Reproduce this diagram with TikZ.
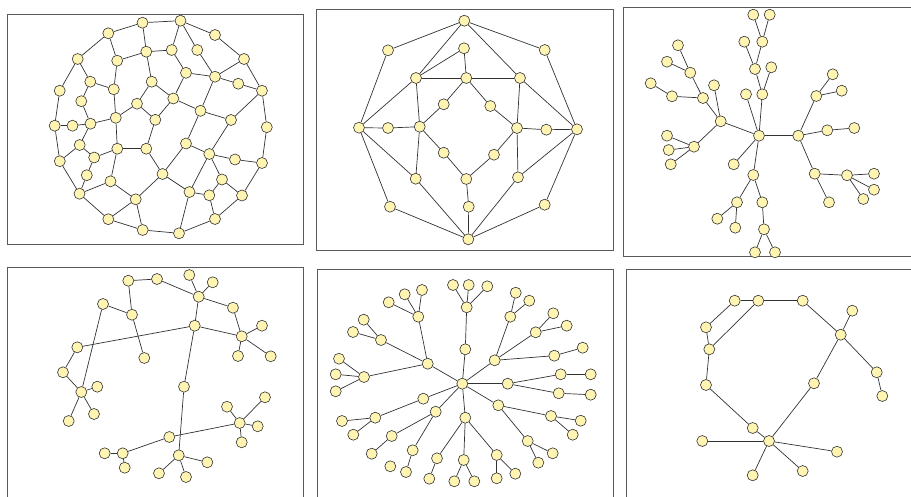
\documentclass[tikz,border=0pt]{standalone}
\usepackage{tikz}
\definecolor{vfill}{RGB}{255,244,178}
\definecolor{vline}{RGB}{50,50,50}
\definecolor{fline}{RGB}{90,90,90}

\begin{document}
\begin{tikzpicture}[
  x=1pt, y=-1pt,
  v/.style={draw=vline, circle, fill=vfill, line width=0.6pt,
            minimum size=11pt, inner sep=0pt},
  e/.style={draw=vline, line width=0.7pt},
  frame/.style={draw=fline, line width=0.9pt}]
\clip (0,0) rectangle (911,496);

% panel frames
\draw[frame] (7,14) rectangle (303,244);
\draw[frame] (316,9) rectangle (613,250);
\draw[frame] (623,7) rectangle (915,256);
\draw[frame] (7,267) rectangle (303,520);
\draw[frame] (317,269) rectangle (613,520);
\draw[frame] (626,269) rectangle (915,520);

% panel 1: ring graph
\foreach \n/\x/\y in {a1/142.5/22.7, a2/180.5/20.7, a3/108.3/33.3, a4/215/35,
    a5/146.3/51.7, a6/171.7/50, a7/197.3/50, a8/77.7/59, a9/117.2/60.7,
    a10/244/59, a11/186/72.8, a12/215/76.7, a13/151.7/81.7, a14/90.3/81.7,
    a15/238.3/83.7, a16/113.8/89.3, a17/59.7/90.7, a18/262/90.7,
    a19/173.3/98.5, a20/81.3/101.2, a21/137/103.7, a22/200.5/110.8,
    a23/115.8/117.8, a24/155.3/119.8, a25/231/120, a26/54.7/125.7,
    a27/72.5/125.7, a28/90.5/123.7, a29/266.8/127.2, a30/79.7/145,
    a31/186/143.5, a32/117.3/148.7, a33/146.3/148.7, a34/209.3/154,
    a35/94.2/157.5, a36/235/159.5, a37/59.8/161.2, a38/262/163,
    a39/86.8/175.2, a40/162.5/174, a41/222/179.5, a42/110.5/181.3,
    a43/79.5/193.7, a44/189.5/192, a45/209.3/195.3, a46/242/195.5,
    a47/135.7/199.3, a48/108.3/219.2, a49/215/219, a50/142.7/230,
    a51/179/233.3}
  \node[v] (\n) at (\x,\y) {};
\foreach \u/\w in {a1/a2, a2/a4, a4/a10, a10/a18, a18/a29, a29/a38, a38/a46,
    a46/a49, a49/a51, a51/a50, a50/a48, a48/a43, a43/a37, a37/a26, a26/a17,
    a17/a8, a8/a3, a3/a1, a1/a5, a2/a6, a2/a7, a7/a12, a3/a9, a5/a9, a5/a6,
    a5/a13, a6/a11, a11/a12, a11/a19, a12/a10, a12/a15, a15/a18, a12/a22,
    a18/a25, a8/a14, a14/a16, a9/a16, a14/a20, a20/a28, a16/a23, a13/a21,
    a13/a19, a21/a23, a21/a24, a19/a24, a19/a22, a22/a25, a22/a31, a25/a34,
    a26/a27, a27/a28, a28/a23, a28/a30, a30/a37, a30/a35, a35/a32, a35/a39,
    a39/a43, a23/a32, a32/a33, a24/a33, a33/a40, a32/a42, a31/a34, a31/a40,
    a34/a36, a36/a38, a34/a44, a34/a41, a41/a45, a41/a46, a44/a45, a45/a49,
    a44/a51, a40/a44, a40/a47, a42/a47, a42/a43, a47/a48, a47/a50}
  \draw[e] (\u) -- (\w);

% panel 2: octagon
\foreach \n/\x/\y in {b1/464.3/20.7, b2/388/50.3, b3/544.7/50, b4/464/48.3,
    b5/416/78, b6/466.3/78, b7/520/78, b8/443.7/104.3, b9/490.3/106,
    b10/359/127.7, b11/388/128, b12/419.7/126.7, b13/517/128,
    b14/546.3/129.7, b15/577/129.3, b16/443.7/152.7, b17/494/154.7,
    b18/415.7/178.7, b19/466.3/179, b20/518/177.3, b21/390/206.7,
    b22/468.7/206.7, b23/544.7/204.7, b24/468.3/239.3}
  \node[v] (\n) at (\x,\y) {};
\foreach \u/\w in {b1/b2, b2/b10, b10/b21, b21/b24, b24/b23, b23/b15, b15/b3,
    b3/b1, b1/b5, b1/b7, b5/b4, b4/b6, b5/b6, b6/b7, b5/b10, b5/b12, b7/b15,
    b7/b13, b10/b11, b11/b12, b10/b18, b6/b8, b8/b12, b6/b9, b9/b13,
    b12/b16, b16/b19, b13/b17, b17/b19, b12/b18, b13/b20, b13/b14, b14/b15,
    b15/b20, b19/b22, b22/b24, b18/b24, b20/b24}
  \draw[e] (\u) -- (\w);

% panel 3: star tree
\foreach \n/\x/\y in {c0/759/135.7, c1/798.3/135.7, c2/720.7/121.3,
    c3/762.3/94.3, c4/746/94.3, c5/733.7/164.3, c6/753.3/175, c7/755/69,
    c8/771.3/67.3, c9/762.3/41.7, c10/744.3/41.7, c11/753.3/14.7,
    c12/769.7/14.7, c13/703/98, c14/714/85.3, c15/672/96.3, c16/650.7/83.3,
    c17/690.3/72.7, c18/667/61.7, c19/678/45.3, c20/694/146.7,
    c21/667/135.7, c22/668.7/150, c23/670.7/164.3, c24/816.3/96,
    c25/832.7/74.3, c26/841.7/90.7, c27/827.3/130.3, c28/854.3/128,
    c29/814.7/173.7, c30/829/202.3, c31/847/175.3, c32/874/173.7,
    c33/874/189.7, c34/863.3/199, c35/737/202.3, c36/717.3/218.7,
    c37/735.3/227.7, c38/762.3/202.3, c39/764/229.3, c40/755/252.3,
    c41/775/252.3}
  \node[v] (\n) at (\x,\y) {};
\foreach \u/\w in {c0/c1, c0/c2, c0/c3, c0/c4, c0/c5, c0/c6, c3/c7, c7/c9,
    c7/c10, c9/c11, c9/c12, c3/c8, c2/c13, c2/c14, c13/c15, c15/c16,
    c13/c17, c17/c18, c17/c19, c2/c20, c20/c21, c20/c22, c20/c23, c1/c24,
    c24/c25, c24/c26, c1/c27, c27/c28, c1/c29, c29/c30, c29/c31, c31/c32,
    c31/c33, c31/c34, c6/c35, c35/c36, c35/c37, c6/c38, c38/c39, c39/c40,
    c39/c41}
  \draw[e] (\u) -- (\w);

% panel 4: sparse graph
\foreach \n/\x/\y in {d1/128.3/280.7, d2/157/279, d3/189.3/275,
    d4/212.7/282.3, d5/198.7/296.7, d6/103/304, d7/132/314.7, d8/233/307.7,
    d9/194.7/325.7, d10/262/325.7, d11/241.7/336.3, d12/77.3/347.3,
    d13/144.3/358, d14/238/356, d15/270.7/356.3, d16/63/372.3,
    d17/184/386.7, d18/97.3/386.7, d19/81.3/392, d20/94/414, d21/68.7/421,
    d22/265/397.3, d23/227/406.7, d24/239.7/423, d25/257.7/426.3,
    d26/241.7/442.3, d27/169.3/437, d28/122.7/453.3, d29/104.7/453.3,
    d30/124.7/467.7, d31/178.7/455.3, d32/207.3/462.3, d33/159/473.3,
    d34/186/477}
  \node[v] (\n) at (\x,\y) {};
\foreach \u/\w in {d1/d2, d2/d5, d5/d3, d5/d4, d5/d8, d5/d9, d8/d11, d9/d11,
    d11/d10, d11/d14, d11/d15, d1/d7, d6/d7, d7/d13, d9/d12, d12/d16,
    d16/d19, d6/d19, d19/d18, d19/d20, d19/d21, d9/d17, d17/d31, d27/d24,
    d24/d23, d24/d22, d24/d25, d24/d26, d27/d28, d28/d29, d28/d30, d31/d32,
    d31/d33, d31/d34}
  \draw[e] (\u) -- (\w);

% panel 5: radial tree
\foreach \n/\x/\y in {e0/462.3/383.7, e1/465.3/349.3, e2/466.7/307.3,
    e3/453/285, e4/468.7/285, e5/487.3/286.3, e6/427.7/363.7,
    e7/418.3/316.7, e8/388.7/302.3, e9/404.7/294.3, e10/422/290,
    e11/381/340, e12/363.7/319.7, e13/353/332, e14/364/377,
    e15/339/358.7, e16/335.7/374.3, e17/335.7/391.3, e18/423.3/398.7,
    e19/375.3/417.7, e20/342/421, e21/353.3/434.7, e22/435.7/411.7,
    e23/391.7/436, e24/371.7/453.7, e25/412.7/450.3, e26/406/472,
    e27/390.3/466.3, e28/465.3/417.7, e29/437/458.3, e30/429.3/478.7,
    e31/463.7/460, e32/454.3/481.3, e33/474.3/481.3, e34/496.7/455,
    e35/496.7/478.3, e36/515.3/473.7, e37/498.3/405.3, e38/527.7/441,
    e39/538.3/462.7, e40/552.7/453.3, e41/551/416, e42/580.7/420.7,
    e43/572.7/434.7, e44/507.7/383.7, e45/560.7/374.3, e46/590.7/374.3,
    e47/558.7/393.3, e48/590.7/394.7, e49/494.7/360.3, e50/554.3/355.7,
    e51/582.7/347.7, e52/535.7/332.3, e53/553.3/313.3, e54/566.7/325.7,
    e55/510.3/316.7, e56/515.7/292.7, e57/529.3/300.7}
  \node[v] (\n) at (\x,\y) {};
\foreach \u/\w in {e0/e1, e1/e2, e2/e3, e2/e4, e2/e5, e0/e6, e6/e7, e7/e8,
    e7/e9, e7/e10, e6/e11, e11/e12, e11/e13, e6/e14, e14/e15, e14/e16,
    e14/e17, e0/e18, e18/e19, e19/e20, e19/e21, e0/e22, e22/e23, e23/e24,
    e22/e25, e25/e26, e0/e28, e28/e29, e29/e30, e28/e31, e31/e32, e31/e33,
    e28/e34, e34/e35, e34/e36, e0/e37, e37/e38, e38/e39, e38/e40, e37/e41,
    e41/e42, e41/e43, e0/e44, e44/e45, e45/e46, e44/e47, e47/e48, e0/e49,
    e49/e50, e50/e51, e49/e52, e52/e53, e52/e54, e49/e55, e55/e56, e55/e57}
  \draw[e] (\u) -- (\w);

% panel 6: loop with pendants
\foreach \n/\x/\y in {f1/734.7/300.7, f2/758.3/300.7, f3/802.7/300.7,
    f4/852.3/310.7, f5/706/327.3, f6/840.7/334.7, f7/709.3/349.3,
    f8/876.7/372.3, f9/814/383.3, f10/706/385, f11/882.3/396,
    f12/752.7/428, f13/769/441, f14/702.3/441, f15/837/451.7,
    f16/802.7/471, f17/752.7/475.3}
  \node[v] (\n) at (\x,\y) {};
\foreach \u/\w in {f1/f2, f2/f3, f1/f5, f5/f7, f2/f7, f7/f10, f10/f12,
    f12/f13, f3/f6, f6/f4, f6/f8, f8/f11, f6/f9, f9/f13, f13/f14, f13/f15,
    f13/f16, f13/f17}
  \draw[e] (\u) -- (\w);
\end{tikzpicture}
\end{document}
